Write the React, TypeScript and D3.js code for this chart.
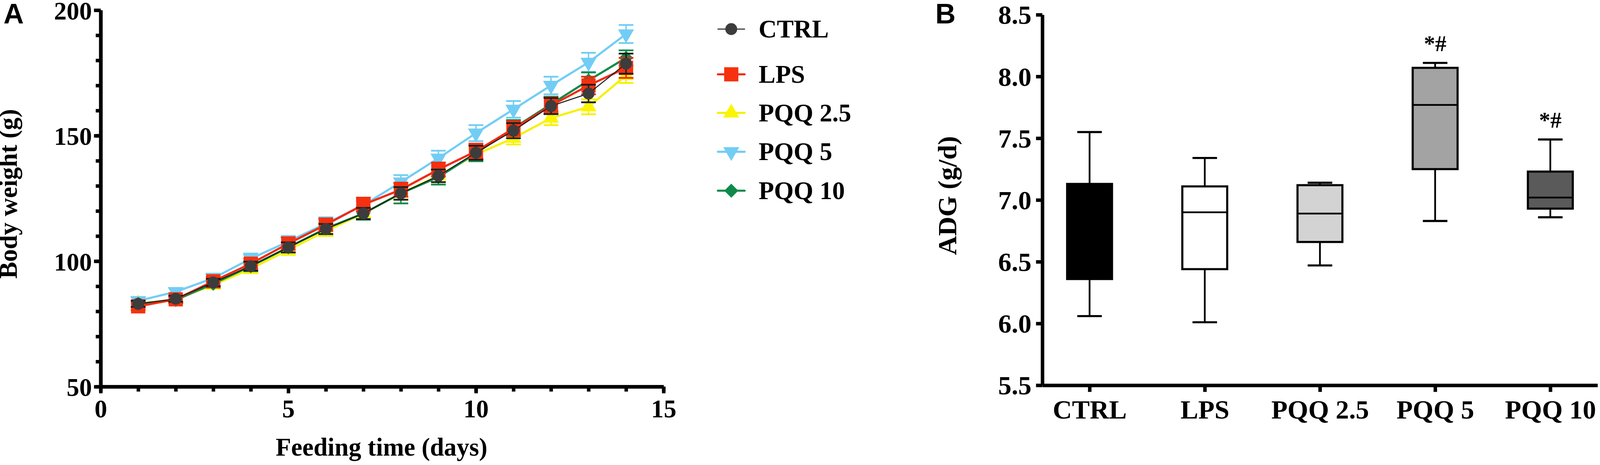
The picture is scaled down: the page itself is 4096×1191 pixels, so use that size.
import * as d3 from "d3";
import React, { useRef, useEffect } from "react";

// panel A: body weight by day (mean and SEM)
const days = [1, 2, 3, 4, 5, 6, 7, 8, 9, 10, 11, 12, 13, 14];
const ctrlMean = [83.0, 85.0, 91.5, 98.0, 105.5, 112.8, 119.0, 127.0, 134.0, 143.2, 152.0, 161.8, 166.8, 178.7];
const lpsMean = [82.0, 84.8, 92.0, 99.0, 107.0, 114.5, 122.5, 128.5, 136.5, 143.8, 152.8, 162.0, 170.0, 177.0];
const pqq25Mean = [83.0, 84.8, 90.5, 97.0, 104.5, 112.0, 119.0, 127.0, 134.0, 142.5, 149.0, 157.0, 161.5, 174.0];
const pqq5Mean = [84.2, 87.8, 93.2, 101.0, 107.8, 115.0, 122.3, 131.5, 141.0, 151.0, 160.5, 170.0, 179.2, 190.5];
const pqq10Mean = [83.0, 84.5, 91.0, 98.0, 105.5, 113.0, 119.0, 127.0, 133.5, 143.0, 153.0, 162.5, 172.0, 181.0];
const ctrlSem = [1.2, 1.2, 1.5, 1.8, 2.0, 2.0, 2.2, 2.5, 2.5, 2.8, 3.0, 3.2, 3.5, 4.0];
const lpsSem = [1.5, 1.5, 1.8, 2.0, 2.5, 2.5, 2.8, 2.8, 2.8, 3.0, 3.0, 3.2, 3.5, 4.0];
const pqq25Sem = [1.2, 1.2, 1.5, 1.8, 2.0, 2.0, 2.2, 2.5, 2.5, 2.5, 2.5, 2.8, 3.0, 3.0];
const pqq5Sem = [1.5, 1.5, 1.8, 2.0, 2.2, 2.5, 2.5, 2.8, 3.0, 3.2, 3.3, 3.5, 3.8, 3.6];
const pqq10Sem = [1.2, 1.2, 1.5, 2.0, 2.0, 2.2, 2.5, 4.0, 3.0, 3.2, 3.2, 3.0, 3.2, 3.0];
const xTicksA = [0, 5, 10, 15];
const yTicksA = [50, 100, 150, 200];

// panel B: ADG box plot
const groups = ["CTRL", "LPS", "PQQ 2.5", "PQQ 5", "PQQ 10"];
const whiskerLow = [6.06, 6.01, 6.47, 6.83, 6.86];
const q1 = [6.36, 6.44, 6.66, 7.25, 6.93];
const median = [6.75, 6.9, 6.89, 7.77, 7.02];
const q3 = [7.13, 7.11, 7.12, 8.07, 7.23];
const whiskerHigh = [7.55, 7.34, 7.14, 8.11, 7.49];
const signif = ["", "", "", "*#", "*#"];
const boxFill = ["#000000", "#ffffff", "#d3d3d3", "#a3a3a3", "#5a5a5a"];
const yTicksB = [5.5, 6.0, 6.5, 7.0, 7.5, 8.0, 8.5];

const SERIF = "'Liberation Serif', 'Times New Roman', serif";
const SANS = "'Liberation Sans', Arial, sans-serif";
const S = 4096 / 4562;

function App() {
    const ref = useRef(null);

    useEffect(() => {
        draw();
    }, []);

    const styleAxis = (g, fontSize) => {
        g.select(".domain").attr("stroke", "#000").attr("stroke-width", 10);
        g.selectAll(".tick line").attr("stroke", "#000").attr("stroke-width", 10);
        g.selectAll(".tick text")
            .attr("fill", "#000")
            .attr("font-family", SERIF)
            .attr("font-weight", "bold")
            .attr("font-size", fontSize);
    };

    const draw = () => {
        const svg = d3.select(ref.current);
        svg.selectAll("*").remove();
        const root = svg.append("g").attr("transform", `scale(${S})`);

        // ---------- panel A ----------
        const xA = d3.scaleLinear().domain([0, 15]).range([287, 1892]);
        const yA = d3.scaleLinear().domain([50, 200]).range([1103, 29]);

        const minorX = root.append("g").attr("transform", "translate(0,1103)")
            .call(d3.axisBottom(xA).tickValues(d3.range(0, 16)).tickSize(14).tickSizeOuter(0).tickFormat(() => ""));
        styleAxis(minorX, 72);
        const majorX = root.append("g").attr("transform", "translate(0,1103)")
            .call(d3.axisBottom(xA).tickValues(xTicksA).tickSize(19).tickSizeOuter(0).tickPadding(18));
        styleAxis(majorX, 72);

        const minorY = root.append("g").attr("transform", "translate(287,0)")
            .call(d3.axisLeft(yA).tickValues(d3.range(50, 201, 10)).tickSize(14).tickSizeOuter(0).tickFormat(() => ""));
        styleAxis(minorY, 72);
        const majorY = root.append("g").attr("transform", "translate(287,0)")
            .call(d3.axisLeft(yA).tickValues(yTicksA).tickSize(19).tickSizeOuter(0).tickPadding(6));
        styleAxis(majorY, 72);
        majorY.selectAll(".tick text").attr("dy", "0.36em");

        root.append("text")
            .attr("x", 1088).attr("y", 1300)
            .attr("text-anchor", "middle")
            .attr("font-family", SERIF).attr("font-weight", "bold").attr("font-size", 72)
            .text("Feeding time (days)");
        root.append("text")
            .attr("transform", "translate(48,553) rotate(-90)")
            .attr("text-anchor", "middle")
            .attr("font-family", SERIF).attr("font-weight", "bold").attr("font-size", 72)
            .text("Body weight (g)");
        root.append("text")
            .attr("x", 10).attr("y", 67)
            .attr("font-family", SANS).attr("font-weight", "bold").attr("font-size", 80)
            .text("A");

        const series = [
            { name: "CTRL", mean: ctrlMean, sem: ctrlSem, line: "#1e1e1e", fill: "#3c3c3c", lw: 3, sym: d3.symbolCircle, size: 908, rot: 0 },
            { name: "LPS", mean: lpsMean, sem: lpsSem, line: "#f02a10", fill: "#f7300f", lw: 6, sym: d3.symbolSquare, size: 1640, rot: 0 },
            { name: "PQQ 2.5", mean: pqq25Mean, sem: pqq25Sem, line: "#f6f000", fill: "#fbf500", lw: 6, sym: d3.symbolTriangle, size: 900, rot: 0 },
            { name: "PQQ 5", mean: pqq5Mean, sem: pqq5Sem, line: "#72cdf4", fill: "#72cdf4", lw: 6, sym: d3.symbolTriangle, size: 900, rot: 180 },
            { name: "PQQ 10", mean: pqq10Mean, sem: pqq10Sem, line: "#0f8a4a", fill: "#0f8a4a", lw: 6, sym: d3.symbolSquare, size: 800, rot: 45 },
        ];
        const drawOrder = ["PQQ 2.5", "PQQ 5", "PQQ 10", "LPS", "CTRL"];

        const line = d3.line().x((d) => xA(d[0])).y((d) => yA(d[1]));

        drawOrder.forEach((nm) => {
            const s = series.find((e) => e.name === nm);
            const pts = days.map((d, i) => [d, s.mean[i], s.sem[i]]);
            const g = root.append("g");
            g.append("path")
                .attr("d", line(pts))
                .attr("fill", "none")
                .attr("stroke", s.line)
                .attr("stroke-width", s.lw);
            const eb = g.selectAll(".eb").data(pts).enter().append("g");
            eb.append("line")
                .attr("x1", (d) => xA(d[0])).attr("x2", (d) => xA(d[0]))
                .attr("y1", (d) => yA(d[1] - d[2])).attr("y2", (d) => yA(d[1] + d[2]))
                .attr("stroke", s.line).attr("stroke-width", 4);
            [-1, 1].forEach((k) => {
                eb.append("line")
                    .attr("x1", (d) => xA(d[0]) - 21).attr("x2", (d) => xA(d[0]) + 21)
                    .attr("y1", (d) => yA(d[1] + k * d[2])).attr("y2", (d) => yA(d[1] + k * d[2]))
                    .attr("stroke", s.line).attr("stroke-width", 5);
            });
            g.selectAll(".mk").data(pts).enter().append("path")
                .attr("d", d3.symbol().type(s.sym).size(s.size)())
                .attr("transform", (d) => `translate(${xA(d[0])},${yA(d[1])}) rotate(${s.rot})`)
                .attr("fill", s.fill);
        });

        // ---------- legend ----------
        const legendY = [83, 212, 322, 433, 544];
        series.forEach((s, i) => {
            const g = root.append("g").attr("transform", `translate(2085,${legendY[i]})`);
            g.append("line").attr("x1", -38).attr("x2", 38)
                .attr("stroke", s.line).attr("stroke-width", s.lw).attr("stroke-linecap", "round");
            g.append("path")
                .attr("d", d3.symbol().type(s.sym).size(s.size)())
                .attr("transform", `rotate(${s.rot})`)
                .attr("fill", s.fill);
            g.append("text")
                .attr("x", 78).attr("y", 24)
                .attr("font-family", SERIF).attr("font-weight", "bold").attr("font-size", 72)
                .text(s.name);
        });

        // ---------- panel B ----------
        const xB = d3.scalePoint().domain(groups).range([2972, 4555]).padding(0.41);
        const yB = d3.scaleLinear().domain([5.5, 8.5]).range([1099, 42]);

        const axB = root.append("g").attr("transform", "translate(0,1099)")
            .call(d3.axisBottom(xB).tickSize(19).tickSizeOuter(0).tickPadding(22));
        styleAxis(axB, 76);
        const ayB = root.append("g").attr("transform", "translate(2972,0)")
            .call(d3.axisLeft(yB).tickValues(yTicksB).tickSize(18).tickSizeOuter(0).tickPadding(13).tickFormat(d3.format(".1f")));
        styleAxis(ayB, 76);
        ayB.selectAll(".tick text").attr("dy", "0.34em");

        root.append("text")
            .attr("transform", "translate(2726,558) rotate(-90)")
            .attr("text-anchor", "middle")
            .attr("font-family", SERIF).attr("font-weight", "bold").attr("font-size", 76)
            .text("ADG (g/d)");
        root.append("text")
            .attr("x", 2667).attr("y", 67)
            .attr("font-family", SANS).attr("font-weight", "bold").attr("font-size", 80)
            .text("B");

        const boxW = 128;
        const capW = 70;
        groups.forEach((gname, i) => {
            const cx = xB(gname);
            const g = root.append("g");
            g.append("line")
                .attr("x1", cx).attr("x2", cx)
                .attr("y1", yB(whiskerHigh[i])).attr("y2", yB(whiskerLow[i]))
                .attr("stroke", "#000").attr("stroke-width", 5);
            [whiskerHigh[i], whiskerLow[i]].forEach((v) => {
                g.append("line")
                    .attr("x1", cx - capW / 2).attr("x2", cx + capW / 2)
                    .attr("y1", yB(v)).attr("y2", yB(v))
                    .attr("stroke", "#000").attr("stroke-width", 6);
            });
            g.append("rect")
                .attr("x", cx - boxW / 2).attr("width", boxW)
                .attr("y", yB(q3[i])).attr("height", yB(q1[i]) - yB(q3[i]))
                .attr("fill", boxFill[i])
                .attr("stroke", "#000").attr("stroke-width", 6);
            g.append("line")
                .attr("x1", cx - boxW / 2).attr("x2", cx + boxW / 2)
                .attr("y1", yB(median[i])).attr("y2", yB(median[i]))
                .attr("stroke", "#000").attr("stroke-width", 5);
            if (signif[i]) {
                g.append("text")
                    .attr("x", cx).attr("y", yB(whiskerHigh[i]) - 34)
                    .attr("text-anchor", "middle")
                    .attr("font-family", SERIF).attr("font-weight", "bold").attr("font-size", 64)
                    .text(signif[i]);
            }
        });
    };

    return (
        <div style={{ position: "absolute", left: 0, top: 0, background: "#fff" }}>
            <svg ref={ref} width={4096} height={1191} style={{ display: "block" }}></svg>
        </div>
    );
}

export default App;
